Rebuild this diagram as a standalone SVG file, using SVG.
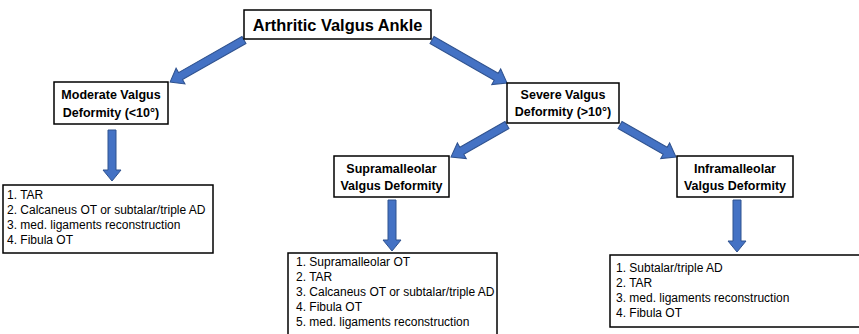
<svg xmlns="http://www.w3.org/2000/svg" width="859" height="334" viewBox="0 0 859 334">
<style>
.box{fill:#fff;stroke:#000;stroke-width:1.5}
.title{font-family:"Liberation Sans",Arial,sans-serif;font-weight:bold;font-size:16.4px;fill:#000;text-anchor:middle}
.hd{font-family:"Liberation Sans",Arial,sans-serif;font-weight:bold;font-size:12.5px;fill:#000;text-anchor:middle}
.tx{font-family:"Liberation Sans",Arial,sans-serif;font-size:12px;fill:#000}
.arr{fill:#4472C4;stroke:#2F528F;stroke-width:1}
</style>
<rect width="859" height="334" fill="#fff"/>
<g id="connectors">
<path class="arr" transform="translate(244,40) rotate(150.4)" d="M0,-4 L73,-4 L73,-9 L85,0 L73,9 L73,4 L0,4 Z"/>
<path class="arr" transform="translate(432,40) rotate(29.8)" d="M0,-4 L74,-4 L74,-9 L86.5,0 L74,9 L74,4 L0,4 Z"/>
<path class="arr" transform="translate(507,125) rotate(150.3)" d="M0,-4 L52,-4 L52,-9 L64.5,0 L52,9 L52,4 L0,4 Z"/>
<path class="arr" transform="translate(620,125) rotate(29.7)" d="M0,-4 L52,-4 L52,-9 L64.5,0 L52,9 L52,4 L0,4 Z"/>
<path class="arr" transform="translate(112,130) rotate(90)" d="M0,-4 L40,-4 L40,-9 L51,0 L40,9 L40,4 L0,4 Z"/>
<path class="arr" transform="translate(392,200) rotate(90)" d="M0,-4 L40,-4 L40,-9 L51,0 L40,9 L40,4 L0,4 Z"/>
<path class="arr" transform="translate(737,200) rotate(90)" d="M0,-4 L41,-4 L41,-9 L52,0 L41,9 L41,4 L0,4 Z"/>
</g>
<g id="root">
<rect class="box" x="244" y="10" width="187" height="29"/>
<text class="title" x="337.5" y="31">Arthritic Valgus Ankle</text>
</g>
<g id="moderate">
<rect class="box" x="54" y="82" width="114" height="42"/>
<text class="hd" x="111" y="99">Moderate Valgus</text>
<text class="hd" x="111" y="117">Deformity (&lt;10°)</text>
</g>
<g id="severe">
<rect class="box" x="507" y="83" width="112" height="40"/>
<text class="hd" x="563" y="99">Severe Valgus</text>
<text class="hd" x="563" y="116">Deformity (&gt;10°)</text>
</g>
<g id="supramalleolar">
<rect class="box" x="334" y="156" width="115" height="41"/>
<text class="hd" x="391.5" y="173">Supramalleolar</text>
<text class="hd" x="391.5" y="190">Valgus Deformity</text>
</g>
<g id="inframalleolar">
<rect class="box" x="677" y="156" width="116" height="41"/>
<text class="hd" x="735" y="173">Inframalleolar</text>
<text class="hd" x="735" y="190">Valgus Deformity</text>
</g>
<g id="moderate-treatment">
<rect class="box" x="3" y="185" width="210" height="68"/>
<text class="tx" x="7" y="199">1. TAR</text>
<text class="tx" x="7" y="214">2. Calcaneus OT or subtalar/triple AD</text>
<text class="tx" x="7" y="229">3. med. ligaments reconstruction</text>
<text class="tx" x="7" y="244">4. Fibula OT</text>
</g>
<g id="supramalleolar-treatment">
<rect class="box" x="288" y="253" width="209" height="84"/>
<text class="tx" x="296" y="266">1. Supramalleolar OT</text>
<text class="tx" x="296" y="281">2. TAR</text>
<text class="tx" x="296" y="296">3. Calcaneus OT or subtalar/triple AD</text>
<text class="tx" x="296" y="311">4. Fibula OT</text>
<text class="tx" x="296" y="326">5. med. ligaments reconstruction</text>
</g>
<g id="inframalleolar-treatment">
<rect class="box" x="610" y="255" width="252" height="72"/>
<text class="tx" x="616" y="272">1. Subtalar/triple AD</text>
<text class="tx" x="616" y="287">2. TAR</text>
<text class="tx" x="616" y="302">3. med. ligaments reconstruction</text>
<text class="tx" x="616" y="317">4. Fibula OT</text>
</g>
</svg>
